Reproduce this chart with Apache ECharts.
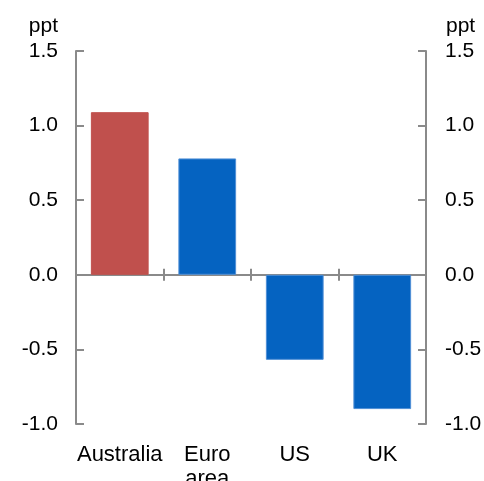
<!DOCTYPE html>
<html>
<head>
<meta charset="utf-8">
<script src="https://cdn.jsdelivr.net/npm/echarts@6/dist/echarts.min.js"></script>
<style>
  html, body { margin: 0; padding: 0; background: #fff; }
  #chart { width: 484px; height: 481px; }
</style>
</head>
<body>
<div id="chart"></div>
<script>
// Change by economy, percentage points
const categories = ['Australia', 'Euro\narea', 'US', 'UK'];
const values = [1.09, 0.78, -0.57, -0.90];
const barColors = ['#C0504D', '#0563C1', '#0563C1', '#0563C1'];
const borderColors = ['#C0504D', '#4F8FD6', '#4F8FD6', '#4F8FD6'];
const yTicks = { min: -1, max: 1.5, interval: 0.5 };
const unitName = 'ppt';

const FONT = "'Liberation Sans', Arial, sans-serif";
const AXIS_GREY = '#8A8A8A';

const chart = echarts.init(document.getElementById('chart'));

const valueAxis = (side) => ({
  type: 'value',
  position: side,
  min: yTicks.min,
  max: yTicks.max,
  interval: yTicks.interval,
  name: unitName,
  nameLocation: 'end',
  nameGap: 14,
  nameTextStyle: {
    fontFamily: FONT, fontSize: 21, color: '#000',
    align: side === 'left' ? 'right' : 'left',
    padding: side === 'left' ? [0, 18, 0, 0] : [0, 0, 0, 20]
  },
  axisLine: { show: true, lineStyle: { color: AXIS_GREY, width: 2 } },
  axisTick: { show: true, inside: true, length: 8, lineStyle: { color: AXIS_GREY, width: 2 } },
  splitLine: { show: false },
  axisLabel: {
    fontFamily: FONT, fontSize: 21, color: '#000',
    margin: side === 'left' ? 18 : 19,
    formatter: (v) => v.toFixed(1)
  }
});

const catAxisBase = {
  type: 'category',
  data: categories,
  position: 'bottom',
  boundaryGap: true,
  splitLine: { show: false }
};

chart.setOption({
  animation: false,
  grid: { left: 76, right: 58, top: 51, bottom: 57, containLabel: false, outerBoundsMode: 'none' },
  xAxis: [
    // zero line with ticks rising above it
    Object.assign({}, catAxisBase, {
      axisLine: { show: true, onZero: true, lineStyle: { color: AXIS_GREY, width: 2 } },
      axisTick: { show: true, inside: true, length: 6, lineStyle: { color: AXIS_GREY, width: 2 } },
      axisLabel: { show: false }
    }),
    // same ticks dropping below the zero line
    Object.assign({}, catAxisBase, {
      axisLine: { show: false, onZero: true },
      axisTick: { show: true, inside: false, length: 6, lineStyle: { color: AXIS_GREY, width: 2 } },
      axisLabel: { show: false }
    }),
    // category names along the bottom of the plot
    Object.assign({}, catAxisBase, {
      axisLine: { show: false, onZero: false },
      axisTick: { show: false },
      axisLabel: {
        fontFamily: FONT, fontSize: 22, color: '#000',
        margin: 19, lineHeight: 24, interval: 0
      }
    })
  ],
  yAxis: [valueAxis('left'), valueAxis('right')],
  series: [{
    type: 'bar',
    xAxisIndex: 0,
    yAxisIndex: 0,
    barWidth: '66%',
    data: values.map((v, i) => ({
      value: v,
      itemStyle: { color: barColors[i], borderColor: borderColors[i], borderWidth: 1 }
    }))
  }]
});
</script>
</body>
</html>
